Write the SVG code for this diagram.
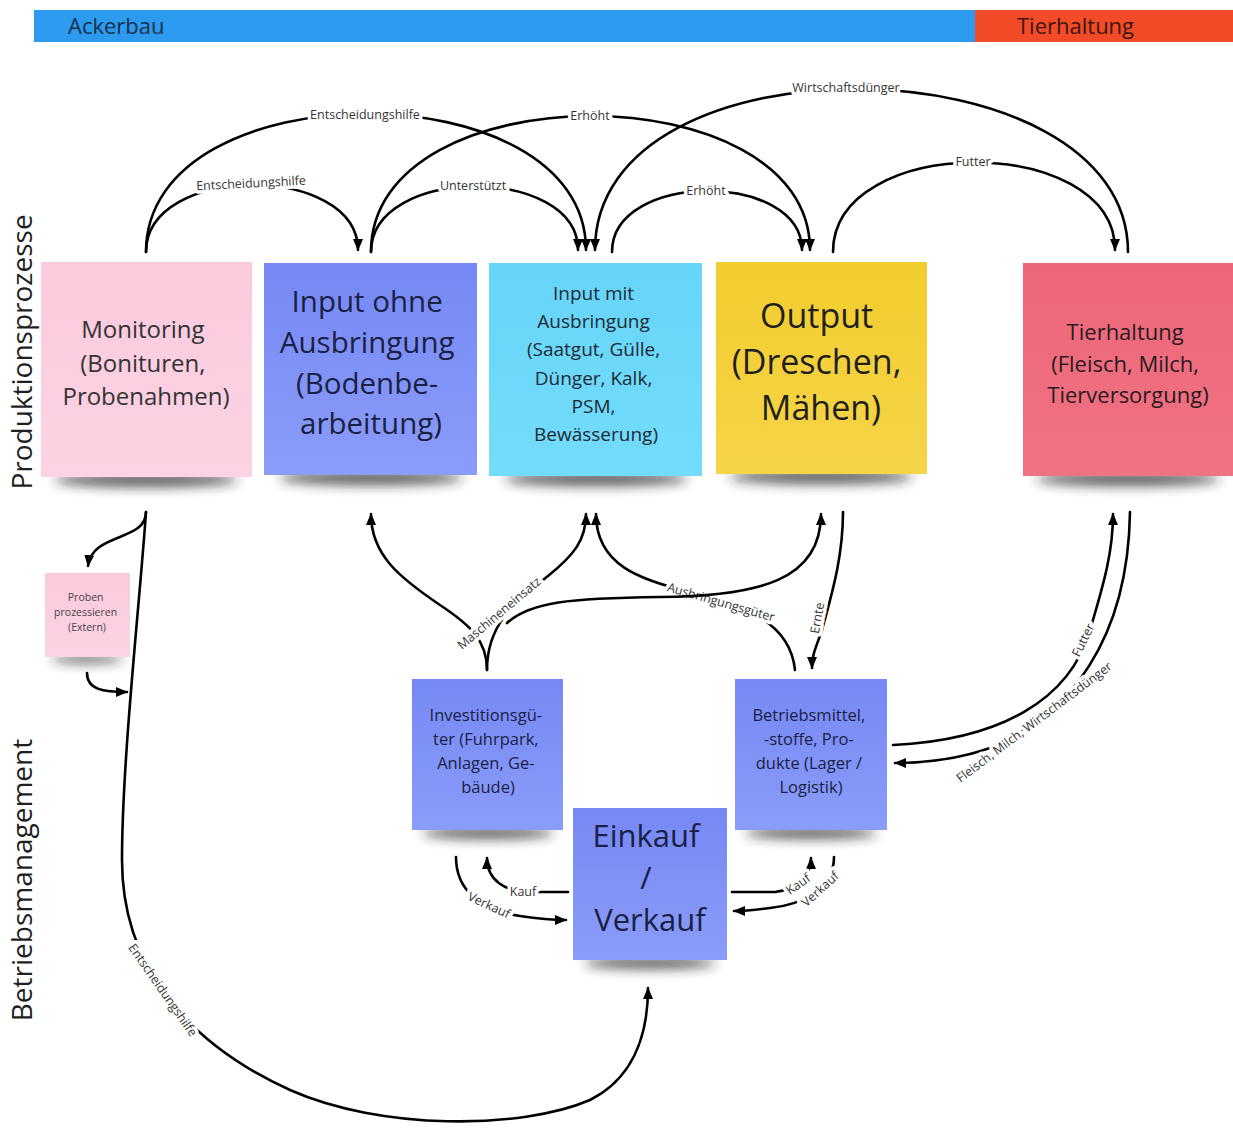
<svg xmlns="http://www.w3.org/2000/svg" width="1233" height="1128" viewBox="0 0 1233 1128">
  <defs>
    <style>
      .t { font-family: "Open Sans", "Noto Sans", "DejaVu Sans", sans-serif; text-anchor: middle; }
      .dark { fill: #1f1f1f; }
      .navy { fill: #1b2142; }
      .lbl { font-family: "Open Sans", "Noto Sans", "DejaVu Sans", sans-serif; font-size: 12.5px; fill: #333; text-anchor: middle; dominant-baseline: central; stroke: #fff; stroke-width: 7px; paint-order: stroke; stroke-linejoin: round; }
      .c { fill: none; stroke: #000; stroke-width: 2.6; stroke-linecap: round; }
      .a { marker-end: url(#arrow); }
      .sh { fill: #222; opacity: 0.75; filter: url(#soft); }
    </style>
    <marker id="arrow" viewBox="0 0 12 10" refX="11" refY="5" markerWidth="12" markerHeight="10" markerUnits="userSpaceOnUse" orient="auto">
      <path d="M0,0 L12,5 L0,10 Z" fill="#000"/>
    </marker>
    <filter id="soft" x="-30%" y="-200%" width="160%" height="500%">
      <feGaussianBlur stdDeviation="6"/>
    </filter>
    <linearGradient id="gPink" x1="0" y1="0" x2="0" y2="1"><stop offset="0" stop-color="#fbcadd"/><stop offset="1" stop-color="#fcd3e4"/></linearGradient>
    <linearGradient id="gBlue" x1="0" y1="0" x2="0" y2="1"><stop offset="0" stop-color="#7688f5"/><stop offset="1" stop-color="#8a9df9"/></linearGradient>
    <linearGradient id="gCyan" x1="0" y1="0" x2="0" y2="1"><stop offset="0" stop-color="#66d5f9"/><stop offset="1" stop-color="#74dcfb"/></linearGradient>
    <linearGradient id="gYellow" x1="0" y1="0" x2="0" y2="1"><stop offset="0" stop-color="#f2cd2e"/><stop offset="1" stop-color="#f6d448"/></linearGradient>
    <linearGradient id="gRed" x1="0" y1="0" x2="0" y2="1"><stop offset="0" stop-color="#ec6679"/><stop offset="1" stop-color="#f07384"/></linearGradient>
  </defs>

  <rect width="1233" height="1128" fill="#fff"/>

  <!-- header band -->
  <g id="header">
    <rect x="34" y="10" width="942" height="32" fill="#2c9aee"/>
    <rect x="975" y="10" width="258" height="32" fill="#f34b28"/>
    <text class="t" x="68" y="34" font-size="22" fill="#17304d" text-anchor="start" style="text-anchor:start">Ackerbau</text>
    <text class="t" x="1017" y="34" font-size="22" fill="#3b160c" style="text-anchor:start">Tierhaltung</text>
  </g>

  <!-- row titles -->
  <g id="rows">
    <text class="t dark" font-size="28" transform="translate(32,352) rotate(-90)">Produktionsprozesse</text>
    <text class="t dark" font-size="28" transform="translate(32,880) rotate(-90)">Betriebsmanagement</text>
  </g>

  <!-- connectors -->
  <g id="connectors">
    <!-- upper arcs -->
    <path class="c a" d="M146,252 C146,163 358,163 358,250"/>
    <text class="lbl" transform="translate(251,183) rotate(-3)">Entscheidungshilfe</text>
    <path class="c a" d="M146,252 C146,68 586,68 586,250"/>
    <text class="lbl" x="365" y="114">Entscheidungshilfe</text>
    <path class="c a" d="M371,252 C371,165 578,165 578,250"/>
    <text class="lbl" x="473" y="185">Unterstützt</text>
    <path class="c a" d="M371,252 C371,71 810,71 810,250"/>
    <text class="lbl" x="590" y="115">Erhöht</text>
    <path class="c a" d="M612,252 C612,171 802,171 802,250"/>
    <text class="lbl" x="706" y="190">Erhöht</text>
    <path class="c a" d="M833,252 C833,133 1115,133 1115,250"/>
    <text class="lbl" x="973" y="161">Futter</text>
    <path class="c a" d="M1128,252 C1128,40 595,30 595,250"/>
    <text class="lbl" x="846" y="87">Wirtschaftsdünger</text>

    <!-- Monitoring to external sample processing -->
    <path class="c a" d="M146,512 C146,542 92,532 88,566"/>
    <path class="c a" d="M87,673 C87,690 104,692 127,692"/>
    <path class="c a" d="M146,512 C140,600 122,760 122,860 C122,960 180,1040 290,1090 C380,1130 520,1130 590,1100 C630,1080 648,1040 648,988"/>
    <text class="lbl" transform="translate(163,990) rotate(55)">Entscheidungshilfe</text>

    <!-- investment goods to production -->
    <path class="c a" d="M487,670 C487,640 470,625 440,605 C400,578 371,555 371,514"/>
    <path class="c a" d="M487,670 C487,622 518,600 548,576 C574,555 586,540 586,514"/>
    <text class="lbl" transform="translate(499,613) rotate(-40)">Maschineneinsatz</text>

    <!-- supplies to input with application -->
    <path class="c a" d="M795,670 C790,620 740,605 690,592 C640,580 596,565 596,514"/>
    <text class="lbl" transform="translate(721,602) rotate(16)">Ausbringungsgüter</text>
    <path class="c a" d="M507,623 C530,602 570,598 660,597 C760,596 821,580 821,514"/>

    <!-- harvest -->
    <path class="c a" d="M843,512 C843,560 830,600 822,630 C815,650 812,655 812,668"/>
    <text class="lbl" transform="translate(817,618) rotate(-80)">Ernte</text>

    <!-- livestock exchange -->
    <path class="c a" d="M893,745 C1000,740 1070,700 1090,630 C1105,580 1113,550 1113,514"/>
    <text class="lbl" transform="translate(1083,640) rotate(-64)">Futter</text>
    <path class="c a" d="M1130,512 C1128,640 1070,715 990,748 C950,762 915,763 895,763"/>
    <text class="lbl" transform="translate(1034,722) rotate(-37)">Fleisch, Milch, Wirtschaftsdünger</text>

    <!-- purchase / sale -->
    <path class="c a" d="M568,892 L530,892 C505,892 487,880 487,858"/>
    <text class="lbl" x="523" y="891">Kauf</text>
    <path class="c a" d="M456,857 C456,890 480,910 520,916 C540,919 552,920 566,920"/>
    <text class="lbl" transform="translate(489,905) rotate(25)">Verkauf</text>
    <path class="c a" d="M732,892 L775,892 C795,890 811,878 811,858"/>
    <text class="lbl" transform="translate(798,884) rotate(-35)">Kauf</text>
    <path class="c a" d="M834,857 C834,890 800,905 770,908 C755,910 746,911 734,911"/>
    <text class="lbl" transform="translate(820,889) rotate(-42)">Verkauf</text>
  </g>

  <!-- nodes -->
  <g id="monitoring">
    <ellipse class="sh" cx="146" cy="480" rx="92" ry="7"/>
    <rect x="41" y="262" width="211" height="215" fill="url(#gPink)"/>
    <text class="t" font-size="24" fill="#333">
      <tspan x="146" y="338">Monitoring</tspan>
      <tspan x="146" y="372">(Bonituren,</tspan>
      <tspan x="146" y="405">Probenahmen)</tspan>
    </text>
  </g>

  <g id="input-ohne">
    <ellipse class="sh" cx="371" cy="478" rx="92" ry="7"/>
    <rect x="264" y="263" width="213" height="212" fill="url(#gBlue)"/>
    <text class="t navy" font-size="29.5">
      <tspan x="371" y="312">Input ohne</tspan>
      <tspan x="371" y="353">Ausbringung</tspan>
      <tspan x="371" y="394">(Bodenbe-</tspan>
      <tspan x="371" y="434">arbeitung)</tspan>
    </text>
  </g>

  <g id="input-mit">
    <ellipse class="sh" cx="596" cy="479" rx="92" ry="7"/>
    <rect x="489" y="263" width="213" height="213" fill="url(#gCyan)"/>
    <text class="t" font-size="19" fill="#1e2a33">
      <tspan x="596" y="300">Input mit</tspan>
      <tspan x="596" y="328">Ausbringung</tspan>
      <tspan x="596" y="356">(Saatgut, Gülle,</tspan>
      <tspan x="596" y="385">Dünger, Kalk,</tspan>
      <tspan x="596" y="413">PSM,</tspan>
      <tspan x="596" y="441">Bewässerung)</tspan>
    </text>
  </g>

  <g id="output">
    <ellipse class="sh" cx="821" cy="477" rx="92" ry="7"/>
    <rect x="716" y="262" width="211" height="212" fill="url(#gYellow)"/>
    <text class="t dark" font-size="34">
      <tspan x="821" y="328">Output</tspan>
      <tspan x="821" y="374">(Dreschen,</tspan>
      <tspan x="821" y="420">Mähen)</tspan>
    </text>
  </g>

  <g id="tierhaltung">
    <ellipse class="sh" cx="1128" cy="479" rx="92" ry="7"/>
    <rect x="1023" y="263" width="210" height="213" fill="url(#gRed)"/>
    <text class="t" font-size="22" fill="#2a1a1e">
      <tspan x="1128" y="340">Tierhaltung</tspan>
      <tspan x="1128" y="372">(Fleisch, Milch,</tspan>
      <tspan x="1128" y="403">Tierversorgung)</tspan>
    </text>
  </g>

  <g id="proben">
    <ellipse class="sh" cx="87" cy="659" rx="36" ry="4"/>
    <rect x="45" y="573" width="85" height="84" fill="url(#gPink)"/>
    <text class="t" font-size="10.5" fill="#444">
      <tspan x="87" y="601">Proben</tspan>
      <tspan x="87" y="616">prozessieren</tspan>
      <tspan x="87" y="631">(Extern)</tspan>
    </text>
  </g>

  <g id="investitionsgueter">
    <ellipse class="sh" cx="488" cy="833" rx="66" ry="6"/>
    <rect x="412" y="679" width="151" height="151" fill="url(#gBlue)"/>
    <text class="t navy" font-size="16.5">
      <tspan x="488" y="721">Investitionsgü-</tspan>
      <tspan x="488" y="745">ter (Fuhrpark,</tspan>
      <tspan x="488" y="769">Anlagen, Ge-</tspan>
      <tspan x="488" y="793">bäude)</tspan>
    </text>
  </g>

  <g id="betriebsmittel">
    <ellipse class="sh" cx="811" cy="833" rx="66" ry="6"/>
    <rect x="735" y="679" width="152" height="151" fill="url(#gBlue)"/>
    <text class="t navy" font-size="16.5">
      <tspan x="811" y="721">Betriebsmittel,</tspan>
      <tspan x="811" y="745">-stoffe, Pro-</tspan>
      <tspan x="811" y="769">dukte (Lager /</tspan>
      <tspan x="811" y="793">Logistik)</tspan>
    </text>
  </g>

  <g id="einkauf-verkauf">
    <ellipse class="sh" cx="650" cy="963" rx="66" ry="6"/>
    <rect x="573" y="808" width="154" height="152" fill="url(#gBlue)"/>
    <text class="t navy" font-size="31">
      <tspan x="650" y="847">Einkauf</tspan>
      <tspan x="650" y="889">/</tspan>
      <tspan x="650" y="931">Verkauf</tspan>
    </text>
  </g>
</svg>
